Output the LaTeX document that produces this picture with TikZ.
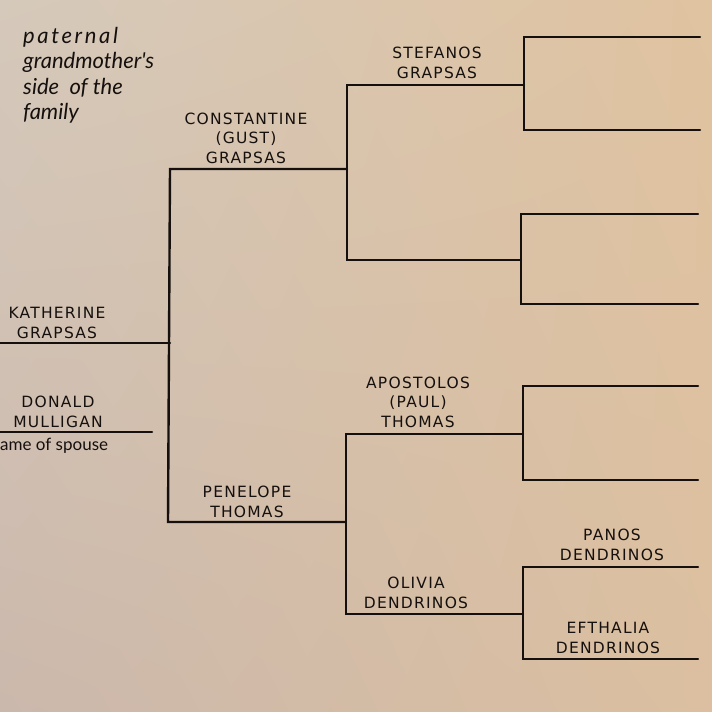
\documentclass[tikz,border=0pt]{standalone}
\usetikzlibrary{shadings}
\usepackage{fontspec}
\newfontfamily\capsfont[LetterSpace=8]{DejaVu Sans}
\newfontfamily\handfont{Lato}
\newfontfamily\handwide[LetterSpace=12]{Lato}
\definecolor{ink}{HTML}{15100E}
\definecolor{paperTL}{HTML}{D5C9BB}
\definecolor{paperTR}{HTML}{E0C3A0}
\definecolor{paperBL}{HTML}{CBB8AC}
\definecolor{paperBR}{HTML}{DBBFA0}
\tikzset{
  namebox/.style={text=ink, font=\capsfont\fontsize{15.5}{19.5}\selectfont, align=center, inner sep=0pt},
  handtext/.style={text=ink, font=\handfont\itshape\fontsize{22}{25.5}\selectfont, align=left, inner sep=0pt},
  smalltext/.style={text=ink, font=\handfont\fontsize{17}{18}\selectfont, inner sep=0pt},
  treeline/.style={draw=ink, line width=2.4pt, line join=miter, line cap=round}
}
\begin{document}
\begin{tikzpicture}[x=1pt,y=-1pt]
\shade[upper left=paperTL, upper right=paperTR, lower left=paperBL, lower right=paperBR] (0,0) rectangle (712,712);
\useasboundingbox (0,0) rectangle (712,712);

% title
\node[handtext, anchor=north west] (title) at (23,27) {{\handwide\itshape paternal}\\grandmother's\\side\ \ of the\\family};

% coordinates
\coordinate (k0) at (0,343);   \coordinate (k1) at (170,343);
\coordinate (s0) at (0,432);   \coordinate (s1) at (152,432);
\coordinate (c0) at (170,169); \coordinate (c1) at (347,169);
\coordinate (p0) at (168,522); \coordinate (p1) at (346,522);
\coordinate (st0) at (347,85);  \coordinate (st1) at (524,85);
\coordinate (cm0) at (347,260); \coordinate (cm1) at (521,260);
\coordinate (ap0) at (346,434); \coordinate (ap1) at (523,434);
\coordinate (ol0) at (346,614); \coordinate (ol1) at (523,614);
\coordinate (a0) at (524,37);  \coordinate (a1) at (700,37);
\coordinate (b0) at (524,130); \coordinate (b1) at (700,130);
\coordinate (e0) at (521,214); \coordinate (e1) at (698,214);
\coordinate (f0) at (521,304); \coordinate (f1) at (698,304);
\coordinate (g0) at (523,386); \coordinate (g1) at (698,386);
\coordinate (h0) at (523,480); \coordinate (h1) at (698,480);
\coordinate (pa0) at (523,567); \coordinate (pa1) at (698,567);
\coordinate (ef0) at (523,659); \coordinate (ef1) at (698,659);

% lines
\draw[treeline] (k0) -- (k1);
\draw[treeline] (s0) -- (s1);
\draw[treeline] (c1) -- (c0) -- (p0) -- (p1);
\draw[treeline] (st1) -- (st0) -- (cm0) -- (cm1);
\draw[treeline] (ap1) -- (ap0) -- (ol0) -- (ol1);
\draw[treeline] (a1) -- (a0) -- (b0) -- (b1);
\draw[treeline] (e1) -- (e0) -- (f0) -- (f1);
\draw[treeline] (g1) -- (g0) -- (h0) -- (h1);
\draw[treeline] (pa1) -- (pa0) -- (ef0) -- (ef1);

% names
\node[namebox] (katherine) at (57,323) {KATHERINE\\GRAPSAS};
\node[namebox] (donald) at (58,412) {DONALD\\MULLIGAN};
\node[smalltext, anchor=west] (spouse) at (0,446) {ame of spouse};
\node[namebox] (constantine) at (246,138) {CONSTANTINE\\(GUST)\\GRAPSAS};
\node[namebox] (stefanos) at (437,63) {STEFANOS\\GRAPSAS};
\node[namebox] (apostolos) at (418,402) {APOSTOLOS\\(PAUL)\\THOMAS};
\node[namebox] (penelope) at (247,502) {PENELOPE\\THOMAS};
\node[namebox] (olivia) at (416,593) {OLIVIA\\DENDRINOS};
\node[namebox] (panos) at (612,545) {PANOS\\DENDRINOS};
\node[namebox] (efthalia) at (608,638) {EFTHALIA\\DENDRINOS};
\end{tikzpicture}
\end{document}
